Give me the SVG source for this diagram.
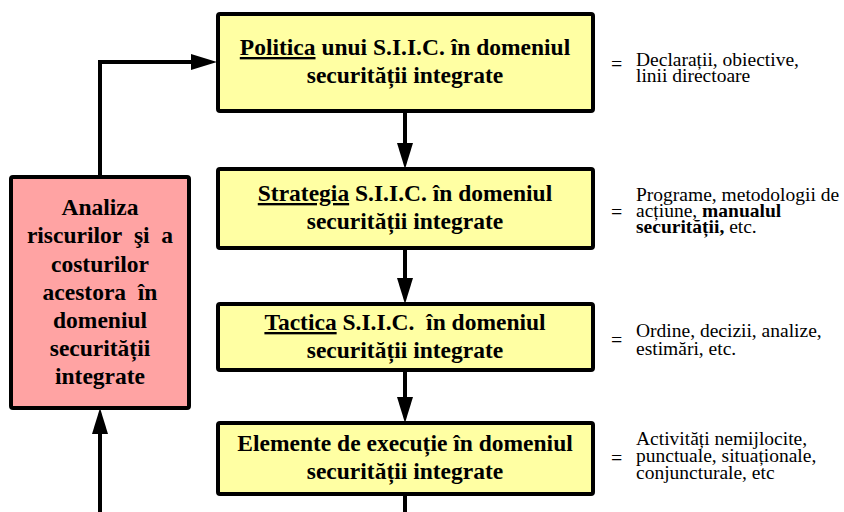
<svg xmlns="http://www.w3.org/2000/svg" width="844" height="512" viewBox="0 0 844 512">
  <style>
    text { font-family: "Liberation Serif", "Times New Roman", serif; fill: #000; }
    .box { stroke: #000; stroke-width: 4; }
    .main { fill: #FFFFA3; }
    .risk { fill: #FFA3A3; }
    .label { font-weight: bold; font-size: 23.5px; text-anchor: middle; }
    .note { font-size: 19.5px; }
    .eqsign { font-size: 20px; }
    .conn { fill: none; stroke: #000; stroke-width: 4; }
  </style>
  <defs>
    <marker id="arrow" viewBox="0 0 26 16" markerWidth="26" markerHeight="16" refX="2" refY="8" orient="auto" markerUnits="userSpaceOnUse">
      <polygon points="0,0 26,8 0,16" fill="#000"/>
    </marker>
  </defs>

  <!-- connectors -->
  <g id="connectors">
    <path class="conn" d="M100,176 V62 H193" marker-end="url(#arrow)"/>
    <path class="conn" d="M100,512 V432" marker-end="url(#arrow)"/>
    <path class="conn" d="M405,111 V145" marker-end="url(#arrow)"/>
    <path class="conn" d="M405,248 V280" marker-end="url(#arrow)"/>
    <path class="conn" d="M405,370 V399" marker-end="url(#arrow)"/>
    <path class="conn" d="M405,494 V512"/>
  </g>

  <!-- policy level -->
  <g id="politica">
    <rect class="box main" x="218" y="14" width="375" height="97" rx="2"/>
    <text class="label" x="405" y="55"><tspan text-decoration="underline">Politica</tspan> unui S.I.I.C. în domeniul</text>
    <text class="label" x="405" y="83">securității integrate</text>
    <text class="eqsign" x="611" y="71">=</text>
    <text class="note" x="636" y="66">Declarații, obiective,</text>
    <text class="note" x="636" y="82">linii directoare</text>
  </g>

  <!-- strategy level -->
  <g id="strategia">
    <rect class="box main" x="218" y="169" width="375" height="79" rx="2"/>
    <text class="label" x="405" y="201"><tspan text-decoration="underline">Strategia</tspan> S.I.I.C. în domeniul</text>
    <text class="label" x="405" y="229">securității integrate</text>
    <text class="eqsign" x="611" y="219">=</text>
    <text class="note" x="636" y="201">Programe, metodologii de</text>
    <text class="note" x="636" y="217">acțiune, <tspan font-weight="bold">manualul</tspan></text>
    <text class="note" x="636" y="233"><tspan font-weight="bold">securității,</tspan> etc.</text>
  </g>

  <!-- tactical level -->
  <g id="tactica">
    <rect class="box main" x="218" y="304" width="375" height="66" rx="2"/>
    <text class="label" x="405" y="330"><tspan text-decoration="underline">Tactica</tspan> S.I.I.C.&#160; în domeniul</text>
    <text class="label" x="405" y="358">securității integrate</text>
    <text class="eqsign" x="611" y="347">=</text>
    <text class="note" x="636" y="337">Ordine, decizii, analize,</text>
    <text class="note" x="636" y="355">estimări, etc.</text>
  </g>

  <!-- execution level -->
  <g id="executie">
    <rect class="box main" x="218" y="423" width="375" height="71" rx="2"/>
    <text class="label" x="405" y="451">Elemente de execuție în domeniul</text>
    <text class="label" x="405" y="479">securității integrate</text>
    <text class="eqsign" x="611" y="465">=</text>
    <text class="note" x="636" y="445">Activități nemijlocite,</text>
    <text class="note" x="636" y="462">punctuale, situaționale,</text>
    <text class="note" x="636" y="479">conjuncturale, etc</text>
  </g>

  <!-- risk and cost analysis -->
  <g id="analiza">
    <rect class="box risk" x="11" y="177" width="178" height="231" rx="2"/>
    <text class="label" x="100" y="215">Analiza</text>
    <text class="label" x="100" y="243">riscurilor&#160; şi&#160; a</text>
    <text class="label" x="100" y="272">costurilor</text>
    <text class="label" x="100" y="300">acestora&#160; în</text>
    <text class="label" x="100" y="328">domeniul</text>
    <text class="label" x="100" y="356">securității</text>
    <text class="label" x="100" y="384">integrate</text>
  </g>
</svg>
